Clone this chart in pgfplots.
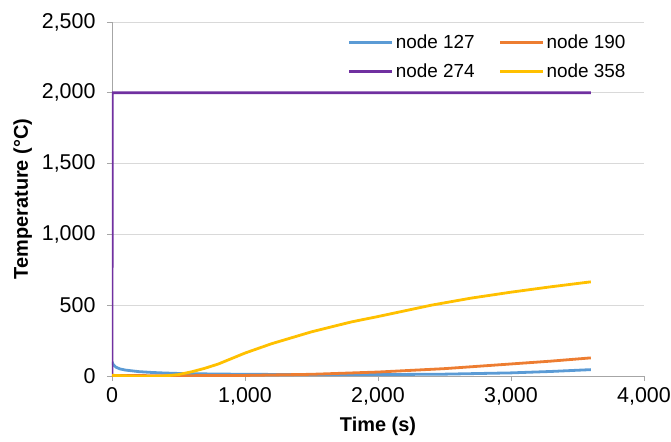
\documentclass[border=0pt]{standalone}
\usepackage{fontspec}
\setmainfont{Liberation Sans}
\usepackage{pgfplots}
\pgfplotsset{compat=1.18}
\definecolor{c127}{HTML}{5B9BD5}
\definecolor{c190}{HTML}{ED7D31}
\definecolor{c274}{HTML}{7030A0}
\definecolor{c358}{HTML}{FFC000}
\definecolor{gridc}{HTML}{D9D9D9}
\definecolor{axc}{HTML}{A6A6A6}
\begin{document}
\begin{tikzpicture}
\begin{axis}[
  scale only axis, width=532bp, height=354bp,
  xmin=0, xmax=4000, ymin=0, ymax=2500,
  xtick={0,1000,2000,3000,4000},
  ytick={0,500,1000,1500,2000,2500},
  axis lines=left, axis line style={-, draw=axc, line width=0.8bp},
  tick align=outside, tick style={draw=axc, line width=0.8bp},
  major tick length=5bp,
  ymajorgrids, grid style={draw=gridc, line width=0.8bp},
  /pgf/number format/1000 sep={,},
  /pgf/number format/assume math mode=true,
  ticklabel style={font=\fontsize{21.5}{23}\selectfont, text=black},
  xticklabel style={yshift=-3bp},
  yticklabel style={xshift=-8bp},
  xlabel={\bfseries Time (s)}, ylabel={\bfseries Temperature (°C)},
  label style={font=\fontsize{20}{22}\selectfont},
  xlabel style={yshift=-5bp},
  ylabel style={yshift=3bp},
  legend columns=2,
  legend style={draw=none, fill=none, at={(rel axis cs:0.975,0.975)}, anchor=north east,
    font=\fontsize{19}{21}\selectfont, row sep=10bp,
    /tikz/every even column/.append style={column sep=22bp}},
  legend cell align=left,
  legend image code/.code={\draw[#1] (0bp,0bp) -- (43bp,0bp);},
  every axis plot/.append style={line width=2.8bp, line join=round},
  clip=true,
]
\addplot[c127] coordinates {(0,100)(10,80)(30,62)(60,50)(100,42)(200,31)(300,25)(400,21)(500,18)(700,15)(1000,12)(1500,10)(2000,10)(2500,13)(3000,22)(3300,32)(3600,45)};
\addlegendentry{node 127}
\addplot[c190] coordinates {(0,3)(500,2)(1000,4)(1500,12)(2000,28)(2500,52)(3000,85)(3300,105)(3600,128)};
\addlegendentry{node 190}
\addplot[c274] coordinates {(0,10)(2,2000)(3600,2000)};
\addlegendentry{node 274}
\addplot[c358] coordinates {(0,5)(100,1)(200,-2)(300,-2)(400,1)(500,10)(600,30)(700,55)(800,85)(1000,162)(1200,228)(1500,312)(1800,382)(2000,420)(2400,500)(2700,550)(3000,592)(3300,630)(3600,665)};
\addlegendentry{node 358}
\coordinate (sw) at (rel axis cs:0,0);
\coordinate (ne) at (rel axis cs:1,1);
\end{axis}
\pgfresetboundingbox
\path[use as bounding box] ([shift={(-112bp,-66bp)}]sw) rectangle ([shift={(27bp,22bp)}]ne);
\end{tikzpicture}
\end{document}
